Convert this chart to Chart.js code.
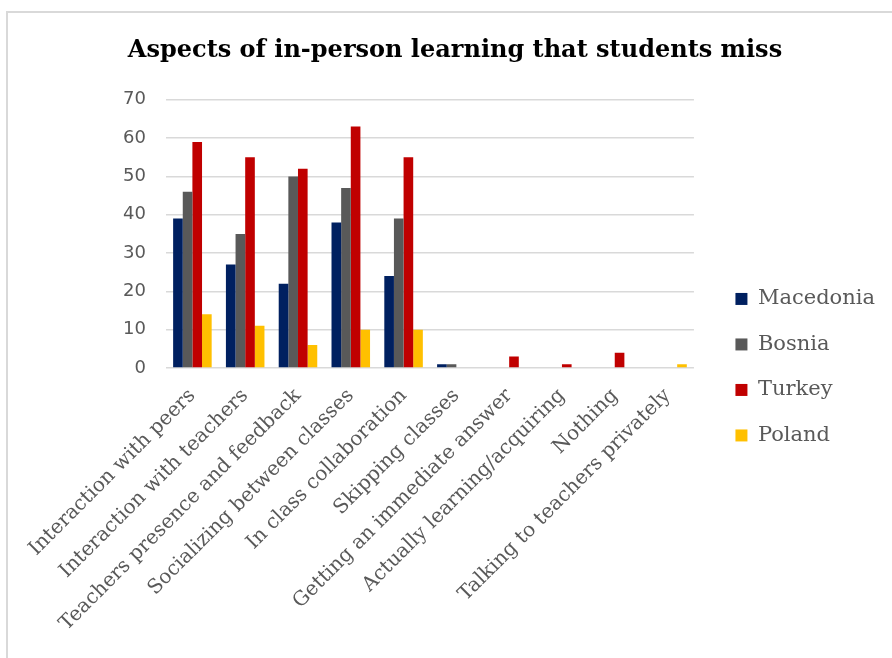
<!DOCTYPE html>
<html>
<head>
<meta charset="utf-8">
<script src="https://cdn.jsdelivr.net/npm/chart.js@4/dist/chart.umd.min.js"></script>
<style>
  body { margin: 0; background: #fff; overflow: hidden; }
  #wrap { position: relative; width: 892px; height: 658px; }
  #frame { position: absolute; left: 6px; top: 11px; width: 900px; height: 700px;
           border: 2px solid #d9d9d9; pointer-events: none; }
</style>
</head>
<body>
<div id="wrap">
  <canvas id="aspectsChart"></canvas>
  <div id="frame"></div>
</div>
<script>
const categories = [
    'Interaction with peers',
    'Interaction with teachers',
    'Teachers presence and feedback',
    'Socializing between classes',
    'In class collaboration',
    'Skipping classes',
    'Getting an immediate answer',
    'Actually learning/acquiring',
    'Nothing',
    'Talking to teachers privately'
];
const macedonia = [39, 27, 22, 38, 24, 1, 0, 0, 0, 0];
const bosnia    = [46, 35, 50, 47, 39, 1, 0, 0, 0, 0];
const turkey    = [59, 55, 52, 63, 55, 0, 3, 1, 4, 0];
const poland    = [14, 11, 6, 10, 10, 0, 0, 0, 0, 1];
const yTicks    = [0, 10, 20, 30, 40, 50, 60, 70];

const grey = '#595959';

const ctx = document.getElementById('aspectsChart').getContext('2d');
const aspectsChart = new Chart(ctx, {
    type: 'bar',
    data: {
        labels: categories,
        datasets: [
            { label: 'Macedonia', data: macedonia, backgroundColor: '#002060' },
            { label: 'Bosnia', data: bosnia, backgroundColor: '#595959' },
            { label: 'Turkey', data: turkey, backgroundColor: '#c00000' },
            { label: 'Poland', data: poland, backgroundColor: '#ffc000' }
        ]
    },
    options: {
        responsive: true,
        maintainAspectRatio: false,
        animation: false,
        datasets: {
            bar: { categoryPercentage: 0.73, barPercentage: 1.0, borderWidth: 0 }
        },
        layout: { padding: { left: 25, right: 7, top: 0, bottom: 0 } },
        plugins: {
            title: {
                display: true,
                text: 'Aspects of in-person learning that students miss',
                color: '#000',
                font: { family: 'DejaVu Serif', size: 24, weight: 'bold' },
                padding: { top: 36, bottom: 35 }
            },
            legend: {
                position: 'right',
                maxWidth: 220,
                title: { display: true, text: ' ', font: { size: 12 }, padding: { top: 62, bottom: 0 } },
                labels: {
                    boxWidth: 12,
                    boxHeight: 12,
                    padding: 24.5,
                    color: grey,
                    font: { family: 'DejaVu Serif', size: 21 }
                }
            },
            tooltip: { enabled: false }
        },
        scales: {
            x: {
                grid: { display: false },
                border: { display: false },
                ticks: {
                    autoSkip: false,
                    maxRotation: 45,
                    minRotation: 45,
                    padding: 8,
                    color: grey,
                    font: { family: 'DejaVu Serif', size: 20 }
                },
                afterFit: scale => { scale.height = 290; }
            },
            y: {
                min: 0,
                max: 70,
                afterBuildTicks: scale => { scale.ticks = yTicks.map(v => ({ value: v })); },
                grid: { color: '#d9d9d9', lineWidth: 1.5, drawTicks: false },
                border: { display: false },
                ticks: {
                    padding: 20,
                    color: grey,
                    font: { family: 'DejaVu Sans', size: 18 }
                },
                afterFit: scale => { scale.width = 141; }
            },
            // empty strip between plot and legend
            gap: {
                position: 'right',
                grid: { display: false },
                border: { display: false },
                ticks: { display: false },
                afterFit: scale => { scale.width = 17; }
            }
        }
    }
});
</script>
</body>
</html>
